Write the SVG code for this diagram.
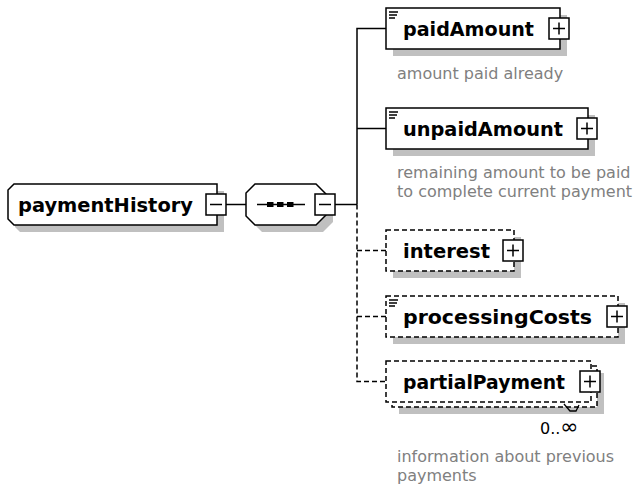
<svg xmlns="http://www.w3.org/2000/svg" width="634" height="488" viewBox="0 0 634 488">
<style>
.bg{fill:#fff}
.box{fill:#fff;stroke:#000;stroke-width:1.5}
.opt{stroke-dasharray:5,3}
.shadow{fill:#c0c0c0;stroke:none}
.name{font-family:"DejaVu Sans",Verdana,sans-serif;font-weight:bold;font-size:19px;fill:#000}
.doc{font-family:"DejaVu Sans",Verdana,sans-serif;font-size:16px;fill:#808080}
.mult{font-family:"DejaVu Sans",Verdana,sans-serif;font-size:16px;fill:#000}
.btn{fill:#fff;stroke:#000;stroke-width:1.5}
.ln{fill:none;stroke:#000;stroke-width:1.5}
.icon{fill:none;stroke:#000;stroke-width:1.3}
.conn{fill:none;stroke:#000;stroke-width:1.5}
</style>
<defs>
<g id="plus"><rect class="btn" x="0" y="0" width="20" height="21"/><path class="ln" d="M4,10.5H16M10,4.5V16.5"/></g>
<g id="minus"><rect class="btn" x="0" y="0" width="20" height="21"/><path class="ln" d="M4,10.5H16"/></g>
<path id="doclines" class="icon" d="M0,0H9M0,3H8M0,6H6"/>
</defs>
<rect class="bg" x="0" y="0" width="634" height="488"/>

<g id="connectors">
<path class="conn" d="M226,204.5H246"/>
<path class="conn" d="M335,204.5H357"/>
<path class="conn" d="M386,28.5H357V204.5"/>
<path class="conn" d="M357,128.5H386"/>
<path class="conn opt" d="M357,204.5V381.5H386"/>
<path class="conn opt" d="M357,250.5H386"/>
<path class="conn opt" d="M357,316.5H386"/>
</g>

<g id="paymentHistory">
<path class="shadow" d="M20,191H224V232H20L15,227V196Z"/>
<path class="box" d="M14,184H217V225H14L8,219V190Z"/>
<text class="name" x="18" y="211.5" textLength="175" lengthAdjust="spacingAndGlyphs">paymentHistory</text>
<use href="#minus" x="206" y="194"/>
</g>

<g id="sequence">
<path class="shadow" d="M262,191H323L333,201V222L323,232H262L253,223V200Z"/>
<path class="box" d="M255,184H316L326,194V215L316,225H255L246,216V193Z"/>
<path class="ln" d="M257,204.5H305"/>
<rect x="267" y="202" width="6.5" height="5" fill="#000"/>
<rect x="277" y="202" width="6.5" height="5" fill="#000"/>
<rect x="287" y="202" width="6.5" height="5" fill="#000"/>
<use href="#minus" x="315" y="194"/>
</g>

<g id="paidAmount">
<rect class="shadow" x="393" y="15" width="174" height="41"/>
<rect class="box" x="386" y="8" width="174" height="41"/>
<use href="#doclines" x="389" y="12"/>
<text class="name" x="403" y="35.5" textLength="131" lengthAdjust="spacingAndGlyphs">paidAmount</text>
<use href="#plus" x="549" y="18"/>
<text class="doc" x="397" y="79">amount paid already</text>
</g>

<g id="unpaidAmount">
<rect class="shadow" x="393" y="115" width="202" height="41"/>
<rect class="box" x="386" y="108" width="202" height="41"/>
<use href="#doclines" x="389" y="112"/>
<text class="name" x="403" y="135.5" textLength="160" lengthAdjust="spacingAndGlyphs">unpaidAmount</text>
<use href="#plus" x="577" y="118"/>
<text class="doc" x="397" y="178">remaining amount to be paid</text>
<text class="doc" x="397" y="197">to complete current payment</text>
</g>

<g id="interest">
<rect class="shadow" x="393" y="237" width="128" height="41"/>
<rect class="box opt" x="386" y="230" width="128" height="41"/>
<text class="name" x="403" y="257.5" textLength="87" lengthAdjust="spacingAndGlyphs">interest</text>
<use href="#plus" x="503" y="240"/>
</g>

<g id="processingCosts">
<rect class="shadow" x="393" y="303" width="232" height="41"/>
<rect class="box opt" x="386" y="296" width="232" height="41"/>
<use href="#doclines" x="389" y="300"/>
<text class="name" x="403" y="323.5" textLength="189" lengthAdjust="spacingAndGlyphs">processingCosts</text>
<use href="#plus" x="607" y="306"/>
</g>

<g id="partialPayment">
<rect class="shadow" x="399" y="373" width="205" height="41"/>
<rect class="box opt" x="392" y="366" width="205" height="41"/>
<rect class="box opt" x="386" y="361" width="205" height="41"/>
<text class="name" x="403" y="388.5" textLength="162" lengthAdjust="spacingAndGlyphs">partialPayment</text>
<use href="#plus" x="580" y="371"/>
<path class="icon" d="M564,404L570,411L576,411L579,405"/>
<text class="mult" x="540" y="434">0..<tspan font-size="22">∞</tspan></text>
<text class="doc" x="397" y="462">information about previous</text>
<text class="doc" x="397" y="481">payments</text>
</g>
</svg>
